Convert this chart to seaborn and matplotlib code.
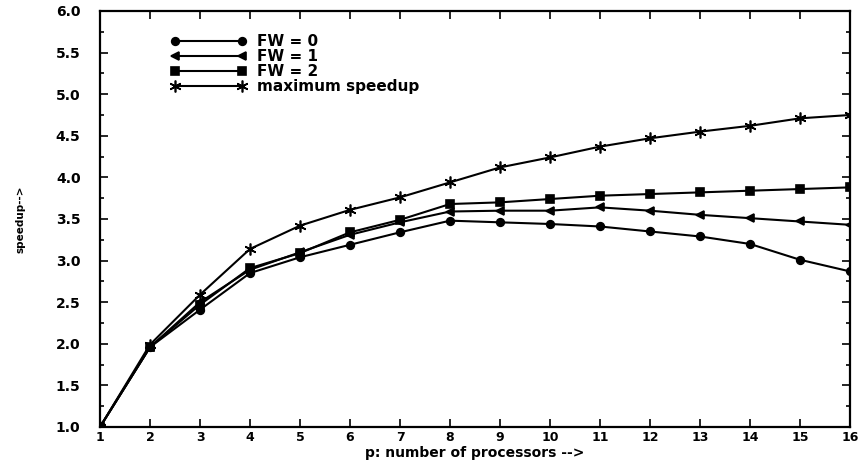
import matplotlib
matplotlib.use("Agg")
import matplotlib.pyplot as plt
import seaborn as sns
import pandas as pd

sns.set_theme(style="ticks")
plt.rcParams['font.family'] = ['DejaVu Sans']
plt.rcParams['text.color'] = 'black'
plt.rcParams['axes.labelcolor'] = 'black'

processors = list(range(1, 17))
fw0 = [1.0, 1.96, 2.41, 2.85, 3.04, 3.19, 3.34, 3.48, 3.46, 3.44, 3.41, 3.35, 3.29, 3.20, 3.01, 2.87]
fw1 = [1.0, 1.96, 2.50, 2.89, 3.10, 3.31, 3.46, 3.59, 3.60, 3.60, 3.64, 3.60, 3.55, 3.51, 3.47, 3.43]
fw2 = [1.0, 1.96, 2.47, 2.91, 3.09, 3.34, 3.49, 3.68, 3.70, 3.74, 3.78, 3.80, 3.82, 3.84, 3.86, 3.88]
maxsp = [1.0, 1.99, 2.59, 3.14, 3.42, 3.61, 3.76, 3.94, 4.12, 4.24, 4.37, 4.47, 4.55, 4.62, 4.71, 4.75]

series_names = ["FW = 0", "FW = 1", "FW = 2", "maximum speedup"]
series_vals = [fw0, fw1, fw2, maxsp]
markers = ["o", "<", "s", (6, 2, 0)]
msizes = [5.5, 5.5, 5.5, 8.5]

x_ticks = list(range(1, 17))
y_ticks = [1.0, 1.5, 2.0, 2.5, 3.0, 3.5, 4.0, 4.5, 5.0, 5.5, 6.0]

fig = plt.figure(figsize=(8.58, 4.62), dpi=100)
ax = fig.add_axes([100/858, 35/462, 750/858, 416/462])

for name, vals, mk, ms in zip(series_names, series_vals, markers, msizes):
    df = pd.DataFrame({"p": processors, "speedup": vals})
    sns.lineplot(data=df, x="p", y="speedup", ax=ax, color="black", marker=mk,
                 markersize=ms, markeredgecolor="black", markeredgewidth=1.2,
                 linewidth=1.5, label=name)

ax.set_xlim(1, 16)
ax.set_ylim(1.0, 6.0)
ax.set_xticks(x_ticks)
ax.set_xticklabels([str(t) for t in x_ticks])
ax.set_yticks(y_ticks)
ax.set_yticklabels([f"{t:.1f}" for t in y_ticks])
ax.set_yticks([1.25 + 0.5*i for i in range(10)], minor=True)
ax.tick_params(axis="both", which="both", direction="in", top=True, right=True,
               colors="black", width=1.2)
ax.tick_params(axis="both", which="major", length=6)
ax.tick_params(axis="both", which="minor", length=3)
ax.tick_params(axis="x", which="major", pad=3, labelsize=9)
ax.tick_params(axis="y", which="major", pad=14, labelsize=10)
for lbl in ax.get_xticklabels() + ax.get_yticklabels():
    lbl.set_fontweight("bold")
for sp in ax.spines.values():
    sp.set_linewidth(1.6)
    sp.set_color("black")

ax.set_xlabel("p: number of processors -->", fontsize=10, fontweight="bold", color="black")
ax.xaxis.set_label_coords(0.5, -0.046)
ax.set_ylabel("speedup-->", fontsize=7.5, fontweight="bold", color="black")
ax.yaxis.set_label_coords(-0.099, 0.5)

leg = ax.legend(loc="upper left", bbox_to_anchor=(0.0933, 0.945), frameon=False, numpoints=2,
                handlelength=5.0, handletextpad=0.7, labelspacing=0.0, borderpad=0,
                borderaxespad=0, prop={"size": 11, "weight": "bold"}, labelcolor="black")

fig.savefig("out.png", dpi=100, facecolor="white")
